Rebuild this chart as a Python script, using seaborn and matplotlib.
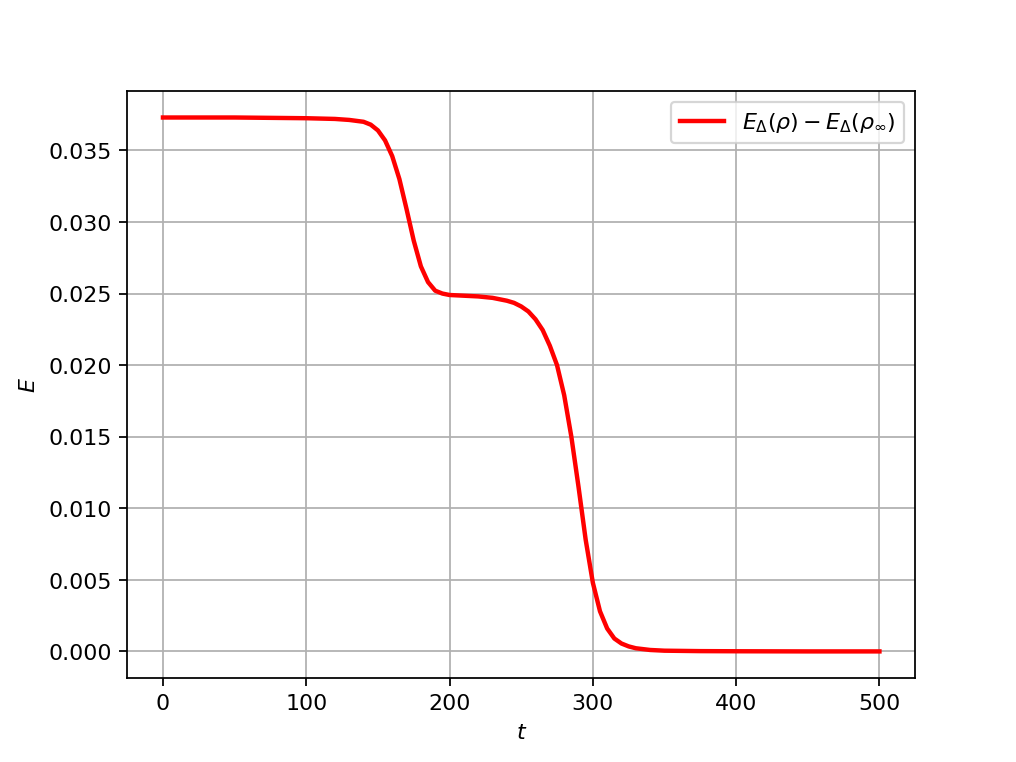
import matplotlib
matplotlib.use("Agg")
import matplotlib.pyplot as plt
import seaborn as sns
import pandas as pd

t = [0, 50, 100, 120, 130, 140, 145, 150, 155, 160, 165, 170, 175, 180, 185,
     190, 195, 200, 210, 220, 230, 240, 245, 250, 255, 260, 265, 270, 275,
     280, 285, 290, 295, 300, 305, 310, 315, 320, 325, 330, 340, 350, 375,
     400, 450, 500]
E = [0.03730, 0.03730, 0.03725, 0.03720, 0.03713, 0.03700, 0.03680, 0.03640,
     0.03570, 0.03460, 0.03300, 0.03090, 0.02870, 0.02690, 0.02580, 0.02520,
     0.02500, 0.02490, 0.02485, 0.02480, 0.02470, 0.02450, 0.02435, 0.02410,
     0.02375, 0.02320, 0.02245, 0.02135, 0.02000, 0.01790, 0.01500, 0.01150,
     0.00780, 0.00480, 0.00280, 0.00160, 0.00090, 0.00055, 0.00035, 0.00022,
     0.00010, 0.00005, 0.00002, 0.00001, 0.0, 0.0]
label = r"$E_{\Delta}(\rho)-E_{\Delta}(\rho_{\infty})$"

df = pd.DataFrame({"t": t, "E": E})

fig, ax = plt.subplots(figsize=(6.4, 4.8), dpi=158.9)
sns.lineplot(data=df, x="t", y="E", color="red", linewidth=2, label=label, ax=ax)
ax.grid(True)
ax.set_xlabel(r"$t$")
ax.set_ylabel(r"$E$")
ax.legend(loc="upper right")
fig.savefig("out.png", dpi=158.9)
